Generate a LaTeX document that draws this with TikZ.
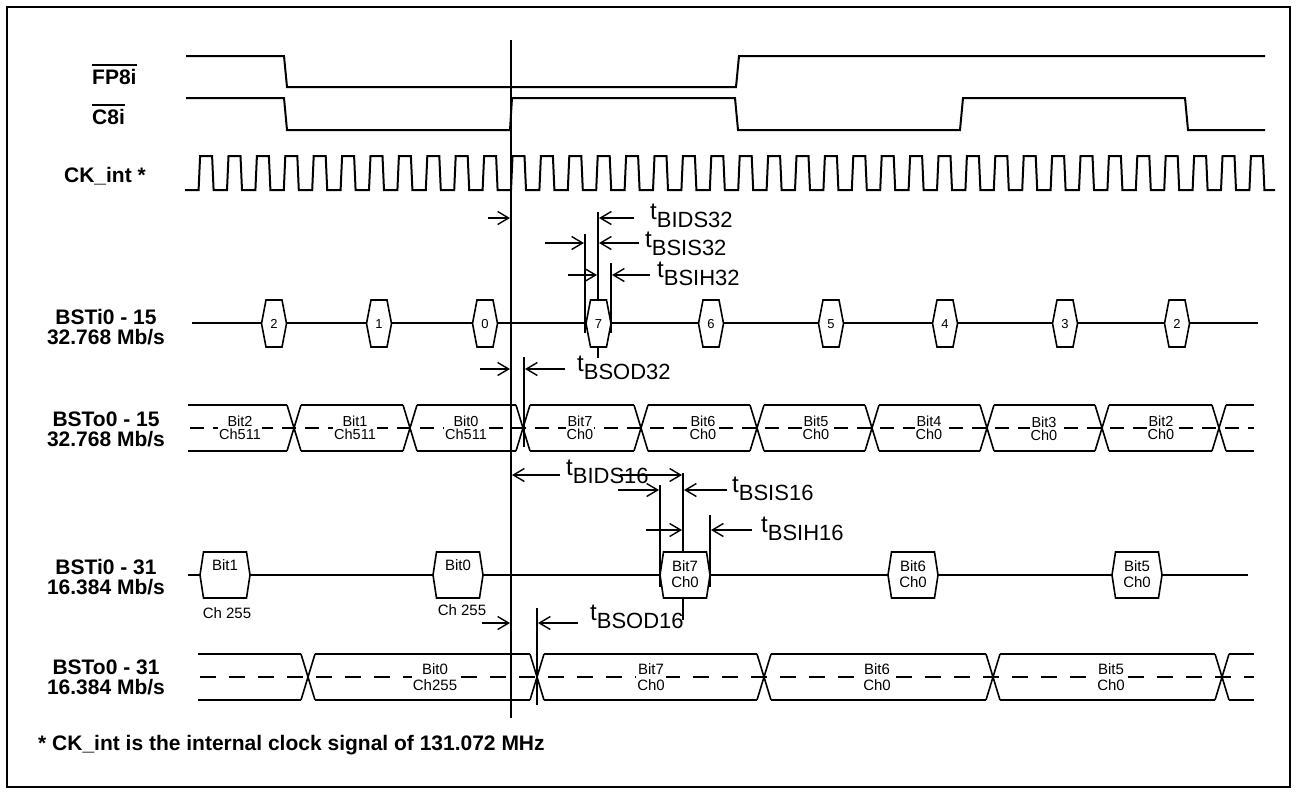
\documentclass[tikz,border=0pt]{standalone}
\usepackage{fontspec}
\setmainfont{Liberation Sans}
\usetikzlibrary{arrows.meta}
\newcommand\myhex[6]{\draw[bus,fill=white] ({#2-#4},#3) -- ({#2-#5},{#3-#6}) -- ({#2+#5},{#3-#6}) -- ({#2+#4},#3) -- ({#2+#5},{#3+#6}) -- ({#2-#5},{#3+#6}) -- cycle;}
\newcommand\tlab[4]{\node[anchor=base west,inner sep=0pt] (#1) at (#2,{#3+17}) {\fontsize{24}{24}\selectfont t\raisebox{-8pt}{\fontsize{22}{22}\selectfont #4}};}
\begin{document}
\begin{tikzpicture}[x=1pt,y=-1pt,
  wave/.style={line width=2pt},
  bus/.style={line width=1.6pt},
  vl/.style={line width=1.8pt},
  dim/.style={line width=1.5pt,-{Straight Barb[length=11pt,width=13pt,line width=1.4pt]}},
  lbl/.style={font=\fontsize{21}{20}\selectfont\bfseries,align=center,inner sep=0pt},
  num/.style={font=\fontsize{13}{13}\selectfont,inner sep=0pt},
  bitA/.style={font=\fontsize{14.5}{13.5}\selectfont,align=center,inner sep=1pt,fill=white},
  bitB/.style={font=\fontsize{15}{16}\selectfont,align=center,inner sep=1pt,fill=white},
  midline/.style={line width=1.6pt,dash pattern=on 14pt off 9pt}]
\useasboundingbox (0,0) rectangle (1297,793);
\draw[line width=2pt] (7,7) rectangle (1290,787);

% labels
\node[lbl,anchor=west] (fp) at (92,77) {FP8i};
\draw[line width=2pt] ([yshift=4pt]fp.north west) -- ([yshift=4pt]fp.north east);
\node[lbl,anchor=west] (c8) at (92,117) {C8i};
\draw[line width=2pt] ([yshift=4pt]c8.north west) -- ([yshift=4pt]c8.north east);
\node[lbl,anchor=east] (ck) at (146,176) {CK\_int *};
\node[lbl] (l1) at (106,327) {BSTi0 - 15\\32.768 Mb/s};
\node[lbl] (l2) at (106,429) {BSTo0 - 15\\32.768 Mb/s};
\node[lbl] (l3) at (106,577) {BSTi0 - 31\\16.384 Mb/s};
\node[lbl] (l4) at (106,677) {BSTo0 - 31\\16.384 Mb/s};
\node[lbl,anchor=west] (fn) at (38,745) {* CK\_int is the internal clock signal of 131.072 MHz};

% top waveforms
\draw[wave] (186,56) -- (284,56) -- (287,87) -- (736,87) -- (739,56) -- (1265,56);
\draw[wave] (186,98) -- (284,98) -- (287,130) -- (510,130) -- (512,98) -- (735,98) -- (738,130) -- (960,130) -- (963,98) -- (1185,98) -- (1188,130) -- (1265,130);
\draw[wave] (185,190) \foreach \k in {-11,...,26} { -- ({511+28.4*\k},190) -- ({512.5+28.4*\k},156) -- ({524.5+28.4*\k},156) -- ({526+28.4*\k},190) } -- (1275,190);

% BSTo0-15 bus
\draw[midline] (190,428) -- (1254,428);
\foreach \c in {294,410,523,641,757,872,987,1102,1219}
  \draw[bus] ({\c-7},405) -- ({\c+7},451) ({\c-7},451) -- ({\c+7},405);
\foreach \a/\b in {188/287,301/403,417/516,530/634,648/750,764/865,879/980,994/1095,1109/1212,1226/1254}
  \draw[bus] (\a,405) -- (\b,405) (\a,451) -- (\b,451);
\node[bitA] (o1) at (240,428) {Bit2\\Ch511};
\node[bitA] (o2) at (355,428) {Bit1\\Ch511};
\node[bitA] (o3) at (466,428) {Bit0\\Ch511};
\node[bitA] (o4) at (580,428) {Bit7\\Ch0};
\node[bitA] (o5) at (703,428) {Bit6\\Ch0};
\node[bitA] (o6) at (816,428) {Bit5\\Ch0};
\node[bitA] (o7) at (929,428) {Bit4\\Ch0};
\node[bitA] (o8) at (1044,429) {Bit3\\Ch0};
\node[bitA] (o9) at (1161,428) {Bit2\\Ch0};

% BSTo0-31 bus
\draw[midline,dash pattern=on 16pt off 13pt] (200,677) -- (1254,677);
\foreach \c in {308,537,764,993,1222}
  \draw[bus] ({\c-7},654) -- ({\c+7},700) ({\c-7},700) -- ({\c+7},654);
\foreach \a/\b in {198/301,315/530,544/757,771/986,1000/1215,1229/1254}
  \draw[bus] (\a,654) -- (\b,654) (\a,700) -- (\b,700);
\node[bitB] (p1) at (435,677) {Bit0\\Ch255};
\node[bitB] (p2) at (651,677) {Bit7\\Ch0};
\node[bitB] (p3) at (877,677) {Bit6\\Ch0};
\node[bitB] (p4) at (1111,677) {Bit5\\Ch0};

% vertical reference lines (behind hexagons)
\draw[vl] (511,40) -- (511,718);
\draw[vl] (598,212) -- (598,358);
\draw[vl] (683,473) -- (683,620);
\draw[vl] (524,357) -- (524,447);
\draw[vl] (537,608) -- (537,705);

% BSTi0-15
\draw[bus] (192,323) -- (1258,323);
\foreach \c/\t in {274/2,379/1,485/0,598.5/7,711/6,831/5,945/4,1065/3,1177/2}{
  \myhex{h}{\c}{323.5}{12.5}{8}{23.5}
  \node[num] at (\c,324) {\t};
}

% BSTi0-31
\draw[bus] (188,575) -- (1248,575);
\myhex{b1}{225}{575}{25}{21.5}{23}
\myhex{b2}{458}{575}{25}{21.5}{23}
\myhex{b3}{685}{575}{25}{21.5}{23}
\myhex{b4}{913}{575}{25}{21.5}{23}
\myhex{b5}{1137}{575}{25}{21.5}{23}
\node[bitB,fill=none] (q1) at (225,565) {Bit1};
\node[bitB,fill=none] (q2) at (458,565) {Bit0};
\node[bitB,fill=none] (q3) at (685,574) {Bit7\\Ch0};
\node[bitB,fill=none] (q4) at (913,574) {Bit6\\Ch0};
\node[bitB,fill=none] (q5) at (1137,574) {Bit5\\Ch0};
\node[bitB,fill=none] (r1) at (227,613) {Ch 255};
\node[bitB,fill=none] (r2) at (462,610) {Ch 255};

% bracket lines on top
\draw[vl] (585,234) -- (585,333);
\draw[vl] (611,263) -- (611,333);
\draw[vl] (660,485) -- (660,587);
\draw[vl] (710,515) -- (710,587);

% dimension arrows
\draw[dim] (488,218) -- (510,218);
\draw[dim] (634,218) -- (599,218);
\draw[dim] (545,243) -- (584,243);
\draw[dim] (639,243) -- (599,243);
\draw[dim] (568,275) -- (597,275);
\draw[dim] (650,275) -- (612,275);
\draw[dim] (480,369) -- (510,369);
\draw[dim] (565,369) -- (525,369);
\draw[dim] (560,475) -- (512,475);
\draw[dim] (620,475) -- (682,475);
\draw[dim] (618,490) -- (659,490);
\draw[dim] (727,490) -- (684,490);
\draw[dim] (646,530) -- (682,530);
\draw[dim] (752,530) -- (711,530);
\draw[dim] (482,623) -- (510,623);
\draw[dim] (578,623) -- (538,623);

% timing labels
\tlab{t1}{650}{202}{BIDS32}
\tlab{t2}{645}{230}{BSIS32}
\tlab{t3}{657}{260}{BSIH32}
\tlab{t4}{577}{354}{BSOD32}
\tlab{t5}{566}{458}{BIDS16}
\tlab{t6}{732}{475}{BSIS16}
\tlab{t7}{761}{515}{BSIH16}
\tlab{t8}{590}{603}{BSOD16}
\end{tikzpicture}
\end{document}
